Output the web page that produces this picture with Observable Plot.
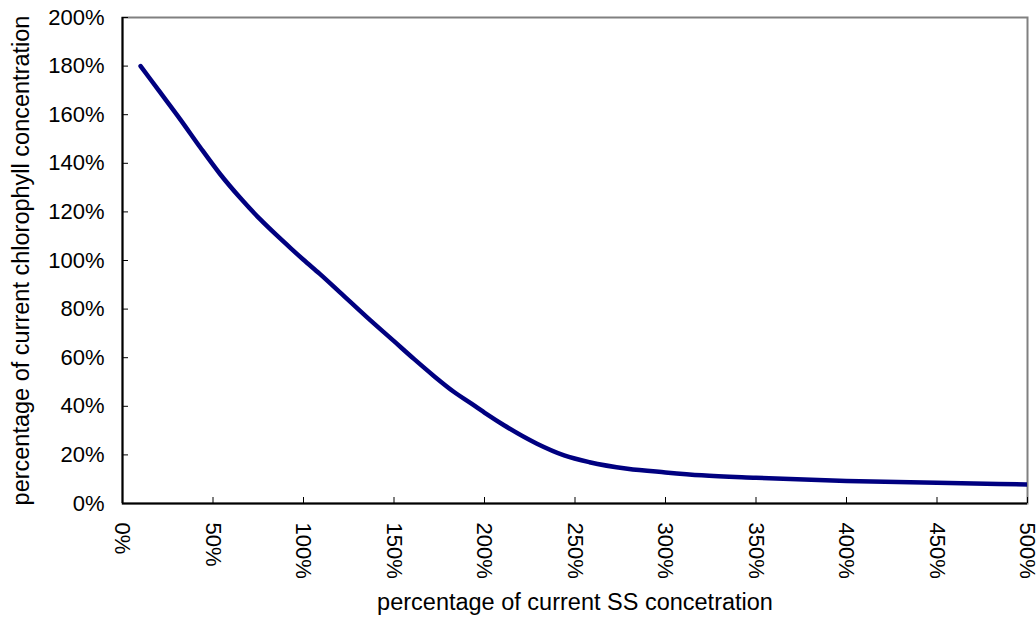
<!DOCTYPE html>
<html><head><meta charset="utf-8">
<script src="https://cdn.jsdelivr.net/npm/d3@7"></script>
<script src="https://cdn.jsdelivr.net/npm/@observablehq/plot@0.6"></script>
<style>body{margin:0;background:#fff}</style>
</head><body><div id="chart"></div>
<script>
const ssPercent = [10, 20, 32, 43, 54, 65, 76, 85, 93, 100, 109, 120, 135, 150, 161, 172, 183, 193, 201, 211, 229, 244, 258, 279, 300, 320, 350, 400, 450, 500];
const chlPercent = [180, 170, 158, 146.5, 135.5, 125.8, 117, 110.5, 105, 100.3, 94.5, 87, 76.7, 66.8, 59.5, 52.5, 46, 41, 36.9, 32.1, 24.6, 19.8, 17.0, 14.3, 12.8, 11.6, 10.6, 9.3, 8.5, 7.8];
const xTicks = [0, 50, 100, 150, 200, 250, 300, 350, 400, 450, 500];
const yTicks = [0, 20, 40, 60, 80, 100, 120, 140, 160, 180, 200];
const xTitle = "percentage of current SS concetration";
const yTitle = "percentage of current chlorophyll concentration";

const data = ssPercent.map((x, i) => ({x, y: chlPercent[i]}));
const fmt = d => d + "%";

const chart = Plot.plot({
  width: 1036, height: 620,
  marginLeft: 122, marginRight: 9, marginTop: 17, marginBottom: 117,
  style: {fontFamily: "Arial, 'Liberation Sans', sans-serif", fontSize: "22px", color: "#000", background: "#fff"},
  x: {domain: [0, 500]},
  y: {domain: [0, 200]},
  marks: [
    Plot.frame({stroke: "#808080", strokeWidth: 2}),
    Plot.ruleX([0], {stroke: "#000", strokeWidth: 2}),
    Plot.ruleY([0], {stroke: "#000", strokeWidth: 2}),
    Plot.axisX({ticks: xTicks, tickSize: 0, tickPadding: 19, tickRotate: 90, tickFormat: fmt, textAnchor: "start", lineAnchor: "middle", label: null}),
    Plot.axisX({ticks: xTicks, tickSize: -6, fill: "none", stroke: "#000", label: null}),
    Plot.axisX({ticks: [], tickSize: 0, label: xTitle, labelAnchor: "center", labelArrow: "none", labelOffset: 106, fontSize: 23.5}),
    Plot.axisY({ticks: yTicks, tickSize: 0, tickPadding: 18, tickFormat: fmt, label: null}),
    Plot.axisY({ticks: yTicks, tickSize: -6, fill: "none", stroke: "#000", label: null}),
    Plot.axisY({ticks: [], tickSize: 0, label: yTitle, labelAnchor: "center", labelArrow: "none", labelOffset: 110.5, fontSize: 23.5}),
    Plot.line(data, {x: "x", y: "y", stroke: "#000080", strokeWidth: 4.5, curve: "monotone-x", strokeLinecap: "round", strokeLinejoin: "round", clip: true})
  ]
});
document.getElementById("chart").append(chart);
</script>
</body></html>
